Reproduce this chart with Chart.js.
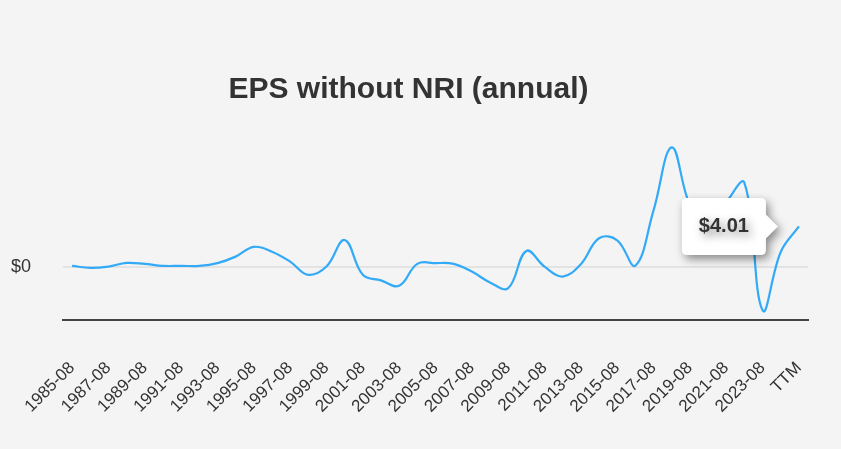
<!DOCTYPE html>
<html>
<head>
<meta charset="utf-8">
<script src="https://cdn.jsdelivr.net/npm/chart.js@4"></script>
<style>
	html, body { margin: 0; padding: 0; background: #f4f4f4; }
	#wrap { width: 841px; height: 449px; }
</style>
</head>
<body>
<div id="wrap"><canvas id="eps_chart"></canvas></div>
<script>
// fiscal years, then trailing twelve months
let years = [];
for (let y = 1985; y <= 2024; y++) years.push(y + '-08');
let labels = years.concat(['TTM']);

// EPS without NRI
let eps = [
	0.13, -0.07, 0.06, 0.42, 0.32, 0.13, 0.13, 0.13, 0.40, 1.04,
	2.00, 1.53, 0.55, -0.75, 0.06, 2.68, -0.75, -1.30, -1.83, 0.33,
	0.40, 0.33, -0.43, -1.50, -2.06, 1.60, 0.06, -0.92, 0.30, 2.85,
	2.65, 0.16, 5.60, 11.80, 6.10, 4.00, 6.40, 8.30, -4.25, 1.50,
	4.01
];

let y_min = -5.2;
let y_max = 14;

const font_family = '"Liberation Sans", Arial, sans-serif';

// soft shadow under the tooltip box
const tooltip_shadow = {
	id: 'tooltip_shadow',
	beforeTooltipDraw: function(chart){
		let ctx = chart.ctx;
		ctx.save();
		ctx.shadowColor = 'rgba(0,0,0,0.45)';
		ctx.shadowBlur = 10;
		ctx.shadowOffsetX = 3;
		ctx.shadowOffsetY = 4;
	},
	afterTooltipDraw: function(chart){
		chart.ctx.restore();
	}
};

const bg = {
	id: 'bg',
	beforeDraw: function(chart){
		let ctx = chart.ctx;
		ctx.save();
		ctx.fillStyle = '#f4f4f4';
		ctx.fillRect(0, 0, chart.width, chart.height);
		ctx.restore();
	}
};

let eps_chart = new Chart('eps_chart', {
	type: 'line',
	data: {
		labels: labels,
		datasets: [{
			data: eps,
			borderColor: '#33aaf7',
			borderWidth: 2.2,
			pointRadius: 0,
			pointHoverRadius: 0,
			tension: 0.4,
			fill: false
		}]
	},
	options: {
		responsive: true,
		maintainAspectRatio: false,
		animation: false,
		events: [],
		layout: { padding: { top: 62, left: 9, right: 33, bottom: 0 } },
		plugins: {
			legend: { display: false },
			title: {
				display: true,
				text: 'EPS without NRI (annual)',
				color: '#333333',
				font: { family: font_family, size: 30, weight: 'bold' },
				padding: { top: 10, bottom: 17 }
			},
			tooltip: {
				enabled: true,
				backgroundColor: '#ffffff',
				bodyColor: '#333333',
				bodyFont: { family: font_family, size: 20, weight: 'bold' },
				padding: { left: 17, right: 17, top: 16.5, bottom: 16.5 },
				cornerRadius: 5,
				caretSize: 12,
				caretPadding: 21,
				xAlign: 'right',
				yAlign: 'center',
				displayColors: false,
				callbacks: {
					title: () => '',
					label: (c) => '$' + c.parsed.y.toFixed(2)
				}
			}
		},
		scales: {
			x: {
				offset: true,
				afterFit: function(scale){
					scale.height = 129;
					scale.paddingLeft = 0;
					scale.paddingRight = 0;
				},
				grid: { display: true, color: 'transparent', drawTicks: false },
				border: { display: true, color: '#444444', width: 2 },
				ticks: {
					autoSkip: false,
					maxRotation: 45,
					minRotation: 45,
					padding: 38,
					color: '#333333',
					font: { family: font_family, size: 17 },
					callback: function(v, i){ return i % 2 === 0 ? labels[i] : ''; }
				}
			},
			y: {
				min: y_min,
				max: y_max,
				afterBuildTicks: function(scale){ scale.ticks = [{ value: 0 }]; },
				afterFit: function(scale){ scale.width = 54; },
				grid: { color: '#e3e3e3', lineWidth: 2, drawTicks: false },
				border: { display: false },
				ticks: {
					padding: 32,
					color: '#333333',
					font: { family: font_family, size: 18 },
					callback: (v) => v === 0 ? '$0' : ''
				}
			}
		}
	},
	plugins: [bg, tooltip_shadow]
});

eps_chart.tooltip.setActiveElements([{ datasetIndex: 0, index: eps.length - 1 }], { x: 0, y: 0 });
eps_chart.update();
</script>
</body>
</html>
